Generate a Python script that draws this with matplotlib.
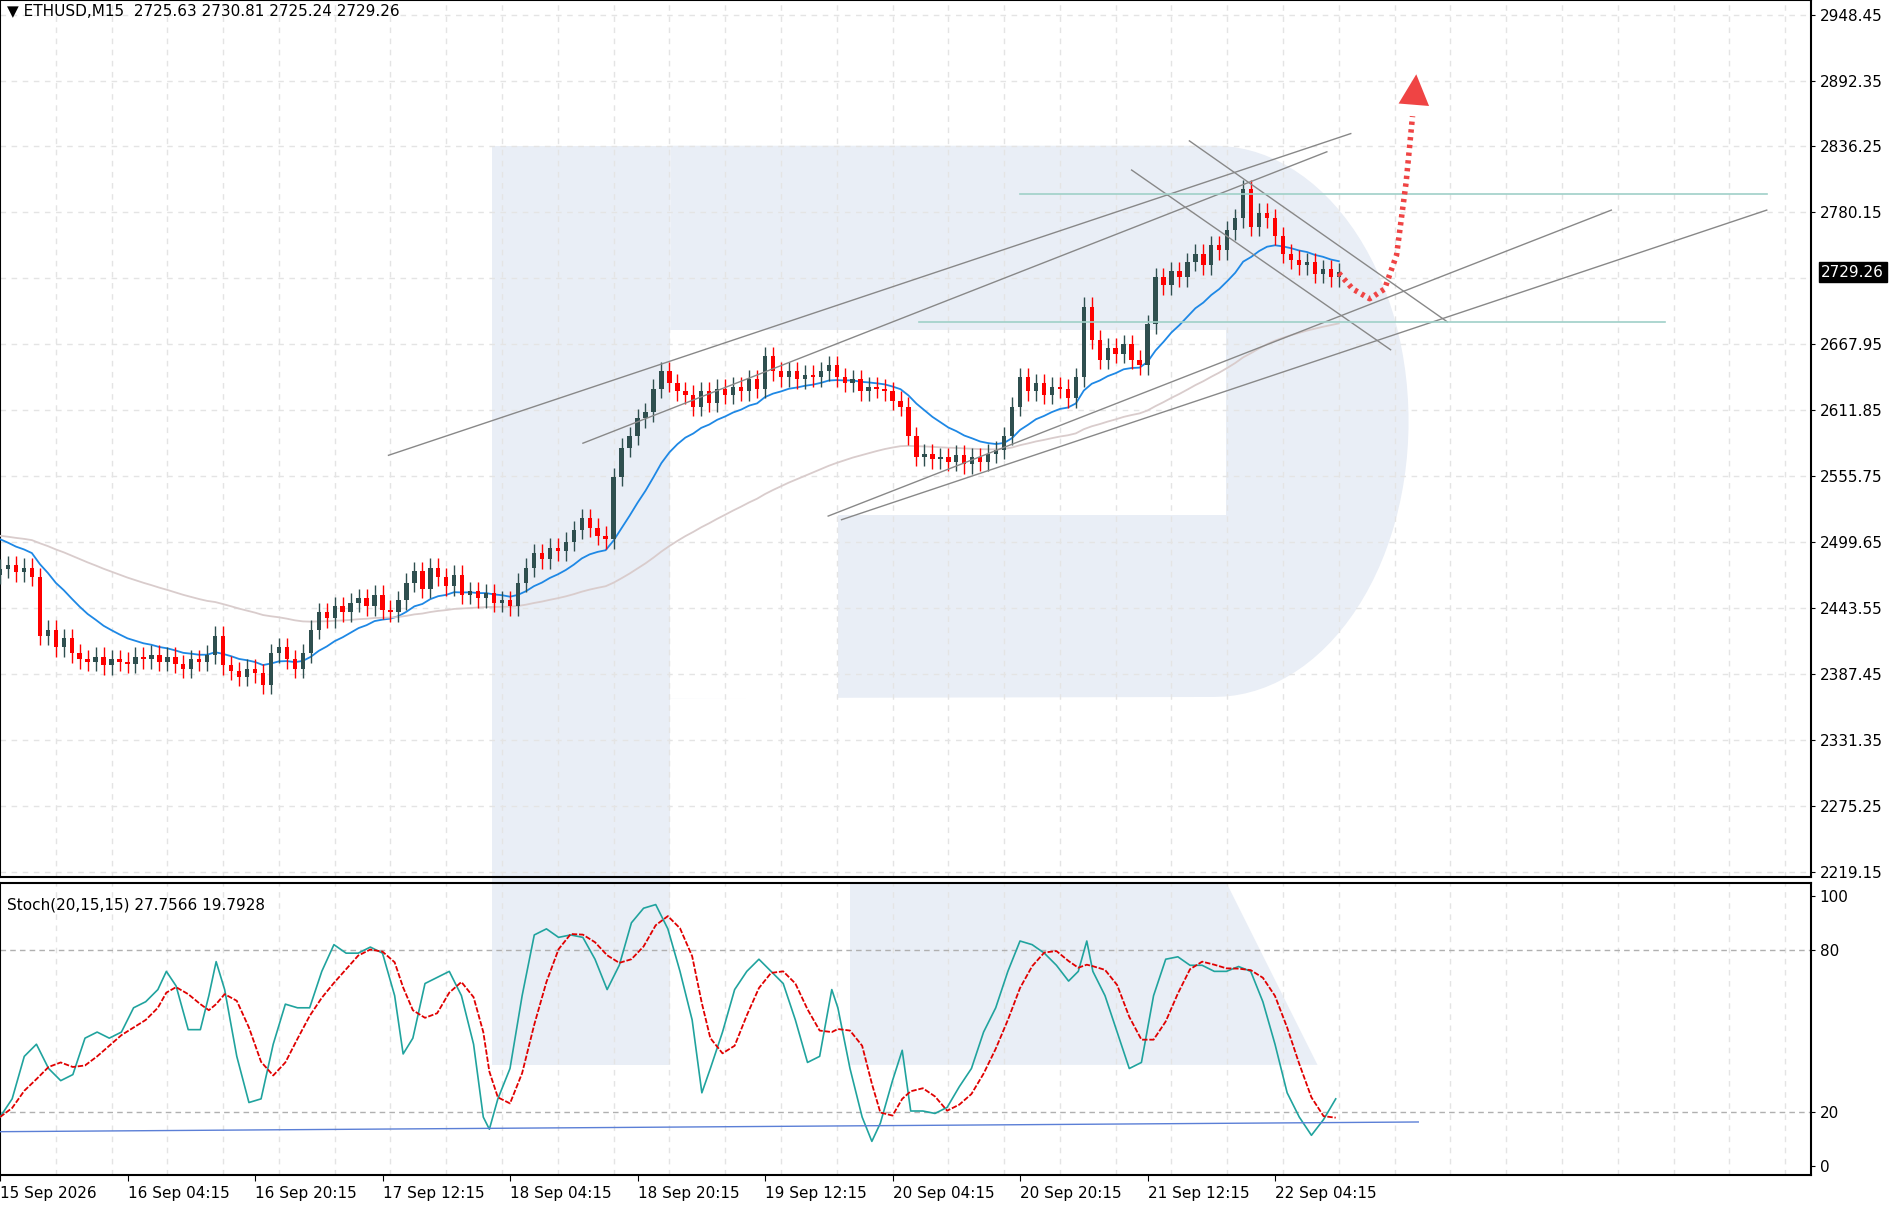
import numpy as np
import matplotlib
matplotlib.use("Agg")
import matplotlib.pyplot as plt
from matplotlib.patches import Polygon, Rectangle, FancyArrowPatch

# ---------------- data ----------------
closes = [2477,2480,2474,2478,2470,2420,2425,2410,2418,2405,2400,2398,2402,2395,2400,2398,2396,2402,2400,2404,
          2398,2402,2396,2392,2400,2398,2404,2420,2395,2390,2385,2392,2388,2378,2405,2410,2400,2392,2405,2425,
          2440,2435,2445,2440,2448,2452,2445,2455,2442,2440,2450,2465,2475,2460,2478,2470,2462,2472,2455,2458,
          2452,2456,2448,2450,2445,2465,2478,2490,2485,2495,2492,2500,2510,2520,2512,2505,2502,2555,2580,2590,
          2605,2610,2630,2645,2635,2628,2625,2615,2628,2618,2630,2625,2632,2628,2638,2630,2658,2645,2640,2645,
          2638,2642,2640,2645,2650,2640,2635,2638,2628,2632,2630,2628,2620,2615,2590,2572,2575,2570,2572,2568,
          2574,2566,2572,2568,2575,2578,2590,2615,2640,2628,2635,2625,2632,2630,2622,2640,2700,2672,2655,2665,
          2660,2668,2655,2650,2685,2725,2718,2730,2725,2738,2745,2735,2752,2748,2765,2775,2800,2768,2780,2775,
          2760,2745,2740,2735,2738,2728,2732,2725,2729.26]
first_open = 2472
wick = 8.0

stoch_px = [0,10,20,30,40,50,60,70,80,90,100,110,120,130,137,145,155,165,172,178,185,195,205,215,225,235,245,255,
            265,275,285,295,305,315,325,332,340,350,360,370,380,390,398,403,410,420,430,440,450,460,470,480,490,500,
            510,520,530,540,550,560,570,578,585,595,605,615,625,635,645,655,665,675,685,690,700,710,718,725,735,743,
            750,760,770,780,790,800,810,820,830,840,850,860,870,880,888,895,900,910,920,930,940,950,960,970,980,990,
            1000,1010,1020,1030,1040,1050,1060,1070,1080,1090,1100]
stoch_y = [920,905,870,860,880,890,885,855,850,855,850,830,825,815,800,812,848,848,820,792,815,870,908,905,860,827,
           830,830,800,778,785,785,780,785,820,868,855,810,805,800,820,860,920,930,905,880,820,770,765,772,770,772,790,
           815,795,760,748,745,765,800,840,900,880,850,815,800,790,800,810,840,875,870,815,830,880,920,940,925,890,865,
           915,915,917,912,895,880,850,830,800,775,778,785,795,808,800,775,800,820,850,880,875,820,790,788,795,795,
           800,800,796,800,825,860,900,920,935,922,905]
stoch_k = [(960 - v) / 2.22 for v in stoch_y]

price_ticks = [2948.45,2892.35,2836.25,2780.15,2724.05,2667.95,2611.85,2555.75,2499.65,2443.55,2387.45,2331.35,2275.25,2219.15]
date_labels = ["15 Sep 2026","16 Sep 04:15","16 Sep 20:15","17 Sep 12:15","18 Sep 04:15","18 Sep 20:15",
               "19 Sep 12:15","20 Sep 04:15","20 Sep 20:15","21 Sep 12:15","22 Sep 04:15"]

trend_lines = [((195,2573.5),(678,2847.2)), ((292.6,2583.8),(666,2831.7)),
               ((568,2816.2),(698,2663.3)), ((597,2841),(726.5,2687)),
               ((415.7,2521.8),(808.8,2782.1)), ((422.4,2518.7),(886.8,2782.1))]
hlines = [(2795.6,512,886.8),(2687.1,461.4,835.6)]
arrow_path = [(672,2728.5),(679,2715),(687.5,2706.7),(695,2715),(701,2743.9),(705.8,2805.9),(709,2862)]

# ---------------- figure ----------------
W, H = 1904, 1213
fig = plt.figure(figsize=(W/100, H/100), dpi=100)
plt.rcParams['font.family'] = ['DejaVu Sans']
FS = 11

bg = fig.add_axes([0,0,1,1], zorder=0)
bg.set_xlim(0,1568); bg.set_ylim(999,0); bg.axis('off')
shade = '#e9eef6'
bg.add_patch(Rectangle((405,120),147,757,color=shade,lw=0))
th = np.linspace(np.pi/2,-np.pi/2,60)
arc = [(1000+160*np.cos(t), 347-227*np.sin(t)) for t in th]
bowl = [(552,120)] + arc + [(552,575)]
bg.add_patch(Polygon(bowl,closed=True,color=shade,lw=0))
bg.add_patch(Polygon([(552,272),(1010,272),(1010,424),(690,424),(690,575),(552,575)],closed=True,color='white',lw=0))
bg.add_patch(Polygon([(700,727),(1010,727),(1085,877),(700,877)],closed=True,color=shade,lw=0))

ax = fig.add_axes([0, 1-722/999, 1491/1568, 722/999], zorder=2)
ax2 = fig.add_axes([0, 1-968/999, 1491/1568, (968-727)/999], zorder=2)
for a in (ax, ax2):
    a.patch.set_alpha(0)
    for s in a.spines.values():
        s.set_linewidth(1.5); s.set_color('black')
    a.yaxis.tick_right()
    a.tick_params(labelsize=FS, length=3)

XMAX = 1491*0.6095
ax.set_xlim(0, XMAX); ax2.set_xlim(0, XMAX)
ax.set_ylim(2960.85-722*1.033, 2960.85)
ax2.set_ylim(-3.6, 104.95)

gx = np.arange(28, XMAX, 28)
for a in (ax, ax2):
    for g in gx:
        a.axvline(g, color='#e4e4e4', ls=(0,(4,4)), lw=1, zorder=0)
for p in price_ticks:
    ax.axhline(p, color='#e4e4e4', ls=(0,(4,4)), lw=1, zorder=0)

opens = [first_open] + closes[:-1]
for i,(o,c) in enumerate(zip(opens, closes)):
    x = 4*i
    col = '#2f4f4f' if c >= o else '#ff0000'
    hi = max(o,c)+wick; lo = min(o,c)-wick
    ax.vlines(x, lo, hi, color=col, lw=1.0, zorder=4)
    ax.add_patch(Rectangle((x-1.1, min(o,c)), 2.2, max(abs(c-o),0.8), color=col, lw=0, zorder=4))

def ema(vals, span, seed):
    a = 2/(span+1); out=[]; e=seed
    for v in vals:
        e = e + a*(v-e); out.append(e)
    return out
xs = [4*i for i in range(len(closes))]
ax.plot(xs, ema(closes, 14, 2506), color='#1e88e5', lw=1.3, zorder=3)
ax.plot(xs, ema(closes, 60, 2506), color='#d9cccc', lw=1.3, zorder=3)

for (p1,p2) in trend_lines:
    ax.plot([p1[0],p2[0]],[p1[1],p2[1]], color='#888888', lw=1, zorder=5)
for (p,x1,x2) in hlines:
    ax.plot([x1,x2],[p,p], color='#9fd0c8', lw=1.2, zorder=5)
ax.plot([q[0] for q in arrow_path],[q[1] for q in arrow_path], color='#ef4444', lw=4, ls=(0,(0.6,0.8)), zorder=6)
ax.add_patch(FancyArrowPatch((709,2858),(711,2900), arrowstyle='-|>', mutation_scale=55, color='#ef4444', lw=0, zorder=6))

ax.set_yticks([p for p in price_ticks if p != 2724.05])
ax.set_yticklabels([f"{p:.2f}" for p in price_ticks if p != 2724.05])
ax.set_xticks([])
ax.text(1.006, 2729.26, "2729.26", transform=ax.get_yaxis_transform(), va='center', ha='left',
        color='white', fontsize=FS, bbox=dict(boxstyle='square,pad=0.15', fc='black', ec='black'), zorder=10)
ax.text(0.004, 0.995, "\u25BC ETHUSD,M15  2725.63 2730.81 2725.24 2729.26", transform=ax.transAxes,
        va='top', ha='left', fontsize=FS)

kx = [v*0.6095 for v in stoch_px]
ax2.plot(kx, stoch_k, color='#20a39e', lw=1.2, zorder=4)
sig = [np.mean(stoch_k[max(0,i-3):i+1]) for i in range(len(stoch_k))]
ax2.plot(kx, sig, color='#e00000', lw=1.3, ls=(0,(3,1)), zorder=4)
for lv in (20,80):
    ax2.axhline(lv, color='#b0b0b0', ls=(0,(4,3)), lw=1, zorder=1)
ax2.plot([0, 1168*0.6095], [12.6, 16.2], color='#5b7fd6', lw=1, zorder=5)
ax2.set_yticks([0,20,80,100])
ax2.set_yticklabels(['0','20','80','100'])
ax2.set_xticks([64*i for i in range(len(date_labels))])
ax2.set_xticklabels(date_labels, ha='left', fontsize=FS)
ax2.tick_params(axis='x', length=4)
ax2.text(0.004, 0.95, "Stoch(20,15,15) 27.7566 19.7928", transform=ax2.transAxes, va='top', ha='left', fontsize=FS)

fig.savefig("out.png", dpi=100)
